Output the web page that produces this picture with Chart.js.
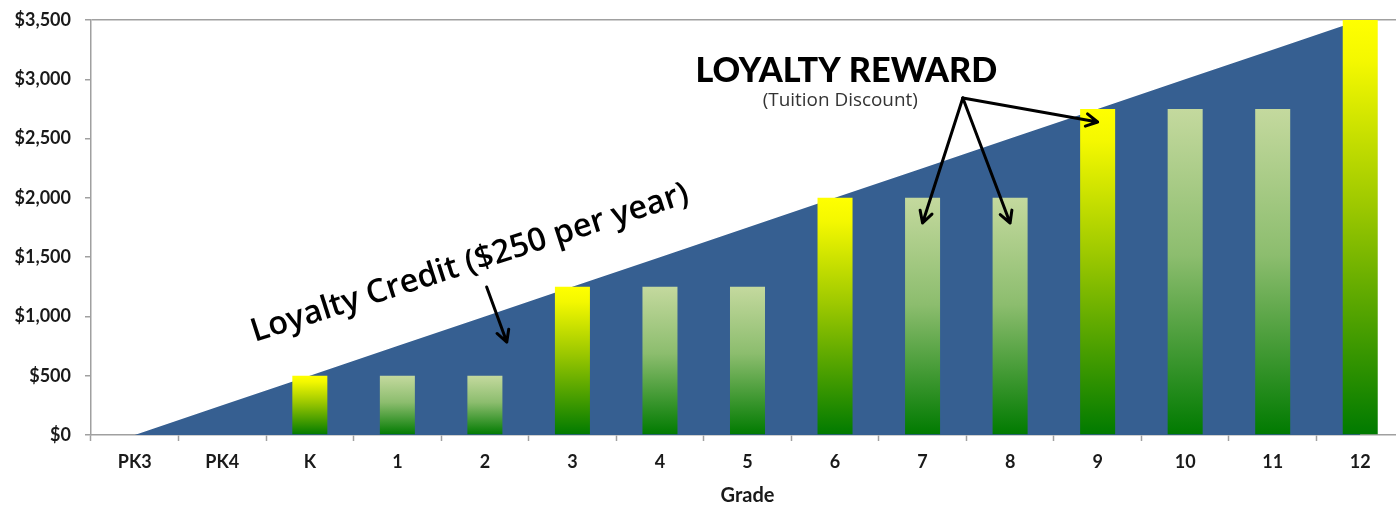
<!DOCTYPE html>
<html lang="en">
<head>
  <meta charset="UTF-8">
  <title>Loyalty Credit and Loyalty Reward by Grade</title>
  <script src="https://cdn.jsdelivr.net/npm/chart.js"></script>
  <style>
    html, body {
      margin: 0;
      padding: 0;
      background: #fff;
      overflow: hidden;
    }
  </style>
</head>
<body>
  <canvas id="gradeChart" width="1410" height="508"></canvas>

  <script>
    const grades = ['PK3', 'PK4', 'K', '1', '2', '3', '4', '5', '6', '7', '8', '9', '10', '11', '12'];
    const creditLine = [0, 250, 500, 750, 1000, 1250, 1500, 1750, 2000, 2250, 2500, 2750, 3000, 3250, 3500];
    const rewardBars = [null, null, 500, 500, 500, 1250, 1250, 1250, 2000, 2000, 2000, 2750, 2750, 2750, 3500];
    const milestone = [false, false, true, false, false, true, false, false, true, false, false, true, false, false, true];

    const axisGrey = '#a0a0a0';
    const labelFont = { family: 'Lato', size: 18, weight: 'bold' };

    function barFill(c) {
      const chart = c.chart;
      const y = chart.scales.y;
      if (c.type !== 'data' || !y || c.raw == null) return '#008000';
      const top = y.getPixelForValue(c.raw);
      const bottom = y.getPixelForValue(0);
      if (!isFinite(top) || !isFinite(bottom)) return '#008000';
      const g = chart.ctx.createLinearGradient(0, top, 0, bottom);
      if (milestone[c.dataIndex]) {
        g.addColorStop(0, '#ffff00');
        g.addColorStop(0.1, '#f4f800');
        g.addColorStop(0.45, '#9cc800');
        g.addColorStop(1, '#007a00');
      } else {
        g.addColorStop(0, '#c4d99e');
        g.addColorStop(0.45, '#8cbd6e');
        g.addColorStop(1, '#007a00');
      }
      return g;
    }

    // text size that gives the wanted width
    function fitFont(ctx, text, weight, family, width) {
      ctx.font = weight + ' 40px ' + family;
      const w = ctx.measureText(text).width;
      return weight + ' ' + (40 * width / w).toFixed(1) + 'px ' + family;
    }

    function arrow(ctx, x1, y1, x2, y2) {
      const a = Math.atan2(y2 - y1, x2 - x1);
      const head = 13;
      ctx.beginPath();
      ctx.moveTo(x1, y1);
      ctx.lineTo(x2, y2);
      ctx.moveTo(x2 - head * Math.cos(a - 0.5), y2 - head * Math.sin(a - 0.5));
      ctx.lineTo(x2, y2);
      ctx.lineTo(x2 - head * Math.cos(a + 0.5), y2 - head * Math.sin(a + 0.5));
      ctx.stroke();
    }

    const notesPlugin = {
      id: 'notes',
      afterDraw(chart) {
        const { ctx } = chart;
        const x = chart.scales.x;
        const y = chart.scales.y;
        const P = (i, v) => [x.getPixelForValue(i), y.getPixelForValue(v)];
        ctx.save();
        ctx.fillStyle = '#000';
        ctx.strokeStyle = '#000';
        ctx.lineWidth = 3;
        ctx.lineCap = 'round';
        ctx.lineJoin = 'round';

        // Loyalty reward heading
        let p = P(8.13, 2977);
        ctx.textAlign = 'center';
        ctx.textBaseline = 'alphabetic';
        ctx.font = fitFont(ctx, 'LOYALTY REWARD', '900', 'Lato', 302);
        ctx.fillText('LOYALTY REWARD', p[0], p[1]);
        p = P(8.06, 2775);
        ctx.fillStyle = '#333';
        ctx.font = fitFont(ctx, '(Tuition Discount)', 'normal', '"Open Sans"', 155);
        ctx.fillText('(Tuition Discount)', p[0], p[1]);

        // reward arrows
        const hub = P(9.46, 2842);
        [[9.0, 1788], [10.0, 1788], [11.0, 2640]].forEach(t => {
          const e = P(t[0], t[1]);
          arrow(ctx, hub[0], hub[1], e[0], e[1]);
        });

        // Loyalty credit label
        p = P(3.86, 1375);
        ctx.fillStyle = '#000';
        ctx.translate(p[0], p[1]);
        ctx.rotate(-17.8 * Math.PI / 180);
        ctx.font = fitFont(ctx, 'Loyalty Credit ($250 per year)', '600', '"Open Sans"', 458);
        ctx.fillText('Loyalty Credit ($250 per year)', 0, 0);
        ctx.setTransform(1, 0, 0, 1, 0, 0);
        const s = P(4.02, 1248);
        const e = P(4.25, 784);
        arrow(ctx, s[0], s[1], e[0], e[1]);
        ctx.restore();
      }
    };

    const chart = new Chart(document.getElementById('gradeChart').getContext('2d'), {
      data: {
        labels: grades,
        datasets: [{
          type: 'bar',
          label: 'Loyalty Reward',
          data: rewardBars,
          backgroundColor: barFill,
          borderWidth: 0,
          barPercentage: 0.4,
          categoryPercentage: 1,
          order: 1
        }, {
          type: 'line',
          label: 'Loyalty Credit',
          data: creditLine,
          fill: 'origin',
          backgroundColor: '#365f91',
          borderWidth: 0,
          borderColor: '#365f91',
          pointRadius: 0,
          tension: 0,
          order: 2
        }]
      },
      options: {
        responsive: false,
        animation: false,
        layout: {
          padding: { left: 0, top: 20, right: 6, bottom: 0 }
        },
        plugins: {
          legend: { display: false },
          tooltip: { enabled: false }
        },
        scales: {
          x: {
            offset: true,
            afterFit(scale) {
              scale.height = 73;
              scale.paddingLeft = 0;
              scale.paddingRight = 0;
            },
            grid: {
              offset: true,
              drawOnChartArea: false,
              drawTicks: true,
              tickLength: 6,
              tickColor: axisGrey,
              tickWidth: 1.5
            },
            border: { color: axisGrey, width: 1.5 },
            ticks: {
              font: labelFont,
              color: '#1a1a1a',
              padding: 10,
              maxRotation: 0
            },
            title: {
              display: true,
              text: 'Grade',
              font: { family: 'Lato', size: 20, weight: 'bold' },
              color: '#1a1a1a',
              padding: { top: 0, bottom: 0 }
            }
          },
          y: {
            min: 0,
            max: 3500,
            afterFit(scale) {
              scale.width = 91;
              scale.paddingTop = 0;
              scale.paddingBottom = 0;
            },
            grid: {
              color: c => (c.tick && c.tick.value === 3500 ? axisGrey : 'transparent'),
              lineWidth: 1.5,
              drawTicks: true,
              tickLength: 6,
              tickColor: axisGrey,
              tickWidth: 1.5
            },
            border: { color: axisGrey, width: 1.5 },
            ticks: {
              stepSize: 500,
              font: labelFont,
              color: '#1a1a1a',
              padding: 14,
              callback: v => '$' + v.toLocaleString('en-US')
            }
          }
        }
      },
      plugins: [notesPlugin]
    });
  </script>
</body>
</html>
